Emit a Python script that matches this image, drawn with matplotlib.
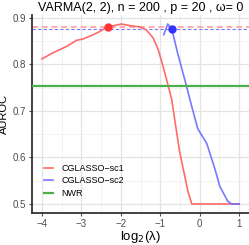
import matplotlib
matplotlib.use("Agg")
import matplotlib.pyplot as plt
from matplotlib.ticker import MultipleLocator

plt.rcParams['font.family'] = ['Liberation Sans', 'DejaVu Sans']

title = "VARMA(2, 2), n = 200 , p = 20 , \u03c9= 0"

sc1_x = [-4.0, -3.72, -3.37, -3.12, -2.95, -2.70, -2.53, -2.33, -2.15, -1.98, -1.73, -1.52,
         -1.35, -1.18, -1.05, -0.93, -0.84, -0.71, -0.51, -0.30, -0.20, 0.0, 0.5, 1.0]
sc1_y = [0.812, 0.825, 0.839, 0.852, 0.855, 0.864, 0.871, 0.881, 0.884, 0.887, 0.883, 0.881,
         0.874, 0.857, 0.832, 0.796, 0.768, 0.725, 0.613, 0.528, 0.500, 0.500, 0.500, 0.500]

sc2_x = [-0.91, -0.81, -0.71, -0.56, -0.38, -0.23, -0.05, 0.05, 0.18, 0.38, 0.51, 0.71, 0.81, 1.0]
sc2_y = [0.864, 0.887, 0.877, 0.825, 0.768, 0.719, 0.662, 0.648, 0.630, 0.577, 0.538, 0.506, 0.500, 0.500]

best_sc1 = (-2.33, 0.881)
best_sc2 = (-0.71, 0.877)
nwr = 0.753

labels = ["CGLASSO\u2212sc1", "CGLASSO\u2212sc2", "NWR"]
colors = ["#ff6a6a", "#6a6aff", "#4daf4a"]

fig = plt.figure(figsize=(2.49, 2.45), dpi=100)
ax = fig.add_axes([32/249, 1-213/245, 217/249, 198/245])

ax.set_xlim(-4.25, 1.25)
ax.set_ylim(0.4806, 0.9064)

ax.xaxis.set_major_locator(MultipleLocator(1))
ax.xaxis.set_minor_locator(MultipleLocator(0.5))
ax.yaxis.set_major_locator(MultipleLocator(0.1))
ax.yaxis.set_minor_locator(MultipleLocator(0.05))
ax.grid(True, which='major', color='#e3e3e3', lw=0.9)
ax.grid(True, which='minor', color='#efefef', lw=0.5)
ax.set_axisbelow(True)

ax.axhline(best_sc1[1], color='#ffaaaa', lw=1.4, ls=(0, (3, 2)), zorder=2)
ax.axhline(best_sc2[1], color='#7777ff', lw=0.8, ls=(0, (3, 2)), zorder=2)

l1, = ax.plot(sc1_x, sc1_y, color=colors[0], lw=1.2, label=labels[0], zorder=3)
l2, = ax.plot(sc2_x, sc2_y, color=colors[1], lw=1.2, label=labels[1], alpha=0.9, zorder=3)
l3 = ax.axhline(nwr, color=colors[2], lw=1.6, label=labels[2], zorder=3)

ax.plot(*best_sc1, 'o', color='#ff3333', ms=5, zorder=4)
ax.plot(*best_sc2, 'o', color='#3333ff', ms=5, zorder=4)

for s in ['top', 'right']:
    ax.spines[s].set_visible(False)
for s in ['left', 'bottom']:
    ax.spines[s].set_color('#333333')
    ax.spines[s].set_linewidth(1.3)

ax.tick_params(which='major', labelsize=7, colors='#4d4d4d', length=2, width=0.8, pad=2)
ax.tick_params(which='minor', length=0)
ax.set_yticks([0.5, 0.6, 0.7, 0.8, 0.9])
ax.set_yticklabels(["0.5", "0.6", "0.7", "0.8", "0.9"])
ax.set_xticks([-4, -3, -2, -1, 0, 1])
ax.set_xticklabels(["\u22124", "\u22123", "\u22122", "\u22121", "0", "1"])

ax.set_xlabel("log$_2$(\u03bb)", fontsize=9.5, labelpad=0.5)
ax.set_ylabel("AUROC", fontsize=8, labelpad=2.5)
ax.set_title(title, fontsize=9, pad=3)

leg = ax.legend(handles=[l1, l2, l3], loc='lower left', bbox_to_anchor=(0.02, 0.035),
                frameon=False, fontsize=6.5, handlelength=1.0, handletextpad=0.9,
                labelspacing=0.4)

fig.savefig("out.png", dpi=100)
